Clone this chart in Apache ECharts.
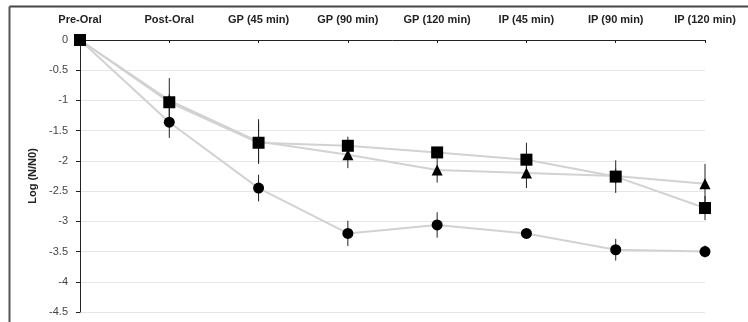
<!DOCTYPE html>
<html>
<head>
<meta charset="utf-8">
<script src="https://cdn.jsdelivr.net/npm/echarts@6/dist/echarts.min.js"></script>
<style>html,body{margin:0;padding:0;background:#fff;}#c{width:748px;height:322px;}</style>
</head>
<body>
<div id="c"></div>
<script>
var categories = ['Pre-Oral','Post-Oral','GP (45 min)','GP (90 min)','GP (120 min)','IP (45 min)','IP (90 min)','IP (120 min)'];
var squareVals = [0, -1.03, -1.70, -1.75, -1.86, -1.98, -2.26, -2.78];
var squareErr  = [0, 0.40, 0.33, 0.15, 0.08, 0.28, 0.27, 0.20];
var triangleVals = [0, -1.00, -1.68, -1.90, -2.15, -2.20, -2.25, -2.38];
var triangleErr  = [0, 0.10, 0.37, 0.22, 0.21, 0.25, 0.12, 0.33];
var circleVals = [0, -1.36, -2.45, -3.20, -3.06, -3.20, -3.47, -3.50];
var circleErr  = [0, 0.26, 0.22, 0.21, 0.21, 0.05, 0.18, 0.10];
var yTicks = ['0','-0.5','-1','-1.5','-2','-2.5','-3','-3.5','-4','-4.5'];

function errData(vals, errs) {
  return vals.map(function (v, i) { return [i, v - errs[i], v + errs[i]]; });
}
function errSeries(vals, errs) {
  return {
    type: 'custom',
    z: 3,
    data: errData(vals, errs),
    renderItem: function (params, api) {
      var lo = api.coord([api.value(0), api.value(1)]);
      var hi = api.coord([api.value(0), api.value(2)]);
      return {
        type: 'line',
        shape: { x1: lo[0], y1: lo[1], x2: hi[0], y2: hi[1] },
        style: { stroke: '#222', lineWidth: 1 }
      };
    }
  };
}
function lineSeries(name, vals, symbol, size) {
  return {
    name: name,
    type: 'line',
    data: vals,
    symbol: symbol,
    symbolSize: size,
    showAllSymbol: true,
    z: 4,
    lineStyle: { color: '#d2d2d2', width: 2 },
    itemStyle: { color: '#000' },
    emphasis: { disabled: true }
  };
}

var chart = echarts.init(document.getElementById('c'));
chart.setOption({
  animation: false,
  backgroundColor: '#fff',
  grid: { left: 80, right: 43, top: 40, bottom: 10 },
  graphic: [
    { type: 'line', shape: { x1: 9.5, y1: 6.5, x2: 748, y2: 6.5 }, style: { stroke: '#444', lineWidth: 2 } },
    { type: 'line', shape: { x1: 9.5, y1: 6.5, x2: 9.5, y2: 322 }, style: { stroke: '#555', lineWidth: 2 } }
  ],
  xAxis: {
    type: 'category',
    position: 'top',
    data: categories,
    boundaryGap: false,
    axisLine: { lineStyle: { color: '#222', width: 1 } },
    axisTick: { inside: true, length: 3, interval: 0, lineStyle: { color: '#222' } },
    axisLabel: { interval: 0, hideOverlap: false, fontFamily: 'Liberation Sans, Arial, sans-serif', fontWeight: 'bold', fontSize: 11, color: '#222', margin: 15 },
    splitLine: { show: false }
  },
  yAxis: {
    type: 'value',
    min: -4.5,
    max: 0,
    interval: 0.5,
    name: 'Log (N/N0)',
    nameLocation: 'middle',
    nameGap: 41,
    nameTextStyle: { fontFamily: 'Liberation Sans, Arial, sans-serif', fontWeight: 'bold', fontSize: 11, color: '#222' },
    axisLine: { show: true, lineStyle: { color: '#222', width: 1 } },
    axisTick: { show: true, length: 4, lineStyle: { color: '#222' } },
    axisLabel: {
      fontFamily: 'Liberation Sans, Arial, sans-serif', fontSize: 11, color: '#444', margin: 12,
      formatter: function (v) {
        var idx = Math.round(-v / 0.5);
        return yTicks[idx] !== undefined ? yTicks[idx] : String(v);
      }
    },
    splitLine: { show: true, lineStyle: { color: '#e6e6e6', width: 1 } }
  },
  series: [
    errSeries(circleVals, circleErr),
    errSeries(triangleVals, triangleErr),
    errSeries(squareVals, squareErr),
    lineSeries('circle', circleVals, 'circle', 11),
    lineSeries('triangle', triangleVals, 'triangle', 11),
    lineSeries('square', squareVals, 'rect', 12)
  ]
});
</script>
</body>
</html>
